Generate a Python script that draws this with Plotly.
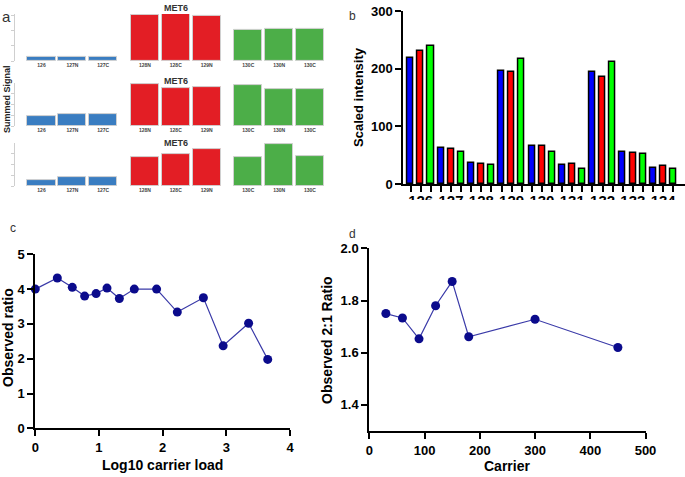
import plotly.graph_objects as go

W, H = 685, 477
def px(x): return x / W
def py(y): return 1 - y / H

FONT = "Arial, Liberation Sans, sans-serif"

# ---------- data ----------
a_labels = ["126", "127N", "127C", "128N", "128C", "129N", "130C", "130N", "130C"]
a_row1 = [0.245, 0.245, 0.285, 3.05, 3.09, 3.0, 2.03, 2.12, 2.14]
a_row2 = [0.91, 1.06, 1.12, 3.85, 3.48, 3.55, 3.75, 3.39, 3.34]
a_row3 = [0.55, 0.82, 0.85, 2.64, 2.88, 3.39, 2.61, 3.85, 2.75]
a_title = "MET6"

b_channels = ["126", "127", "128", "129", "130", "131", "132", "133", "134"]
b_blue = [218, 62, 36, 196, 66, 33, 195, 55.5, 28]
b_red = [231, 61, 35, 195, 66, 35, 185.5, 53, 30.5]
b_green = [240, 56, 33.5, 216, 55.5, 26.5, 211, 52.5, 26]

c_x = [0, 0.346, 0.581, 0.775, 0.955, 1.126, 1.32, 1.555, 1.905, 2.23, 2.64, 2.95, 3.35, 3.65]
c_y = [4.0, 4.32, 4.05, 3.80, 3.87, 4.03, 3.73, 4.0, 4.0, 3.34, 3.75, 2.37, 3.02, 1.98]

d_x = [30, 60, 90, 120, 150, 180, 300, 450]
d_y = [1.75, 1.733, 1.653, 1.78, 1.873, 1.661, 1.728, 1.62]

# ---------- styles ----------
a_colors = ["#3a7dc1"] * 3 + ["#e31e25"] * 3 + ["#4cae48"] * 3
a_pos = [i + (i // 3) * 0.35 for i in range(len(a_labels))]

fig = go.Figure()

def note(text, x, y, size, color="black", angle=0, bold=False):
    fig.add_annotation(text=text, xref="paper", yref="paper", x=px(x), y=py(y),
                       xanchor="center", yanchor="middle", showarrow=False,
                       textangle=angle,
                       font=dict(size=size, color=color, family=FONT,
                                 weight="bold" if bold else "normal"))

# ---------- panel a ----------
rows = [
    (a_row1, 61, 13.9, 15.1, 8),
    (a_row2, 126, 83.1, 11.0, 81),
    (a_row3, 186, 143.1, 11.0, 143),
]
for k, (vals, base, top, unit, ttl) in enumerate(rows, start=1):
    fig.add_trace(go.Bar(
        x=a_pos, y=vals, width=0.91,
        marker=dict(color=a_colors, line=dict(color="#d0d0d0", width=1)),
        xaxis=f"x{k}", yaxis=f"y{k}", showlegend=False,
    ))
    ymax = (base - top) / unit
    fig.update_layout(**{
        f"xaxis{k}": dict(domain=[px(15), px(330)], range=[-0.859, 9.348],
                          anchor=f"y{k}", showgrid=False, zeroline=False, automargin=False,
                          showline=False, ticks="", tickvals=a_pos, ticktext=a_labels,
                          tickfont=dict(size=5, color="#444", family=FONT, weight="bold")),
        f"yaxis{k}": dict(domain=[py(base), py(top)], range=[0, ymax],
                          anchor=f"x{k}", showgrid=False, zeroline=False, automargin=False,
                          showline=True, linecolor="#cfcfcf", linewidth=1,
                          ticks="outside", ticklen=3, tickcolor="#cfcfcf",
                          tickvals=[0, 1, 2, 3], showticklabels=False),
    })
    note(a_title, 176, ttl, 9, color="#333", bold=True)

note("Summed Signal", 7, 99, 9, color="#222", angle=-90, bold=True)

# ---------- panel b ----------
b_pitch = 1 / 3
for off, vals, col in [(-b_pitch, b_blue, "#0000ff"), (0, b_red, "#ff0000"), (b_pitch, b_green, "#00ff00")]:
    fig.add_trace(go.Bar(
        x=[i + off for i in range(len(b_channels))], y=vals, width=0.2,
        marker=dict(color=col, line=dict(color="black", width=1.5)),
        xaxis="x4", yaxis="y4", showlegend=False,
    ))
b_tickvals, b_ticktext = [], []
for i, ch in enumerate(b_channels):
    for j, off in enumerate([-b_pitch, 0, b_pitch]):
        b_tickvals.append(i + off)
        b_ticktext.append(ch if j == 1 else "")
fig.update_layout(
    xaxis4=dict(domain=[px(403.3), 1], range=[-0.574, 8.72], anchor="y4", automargin=False,
                showgrid=False, zeroline=False, showline=True, linecolor="black",
                linewidth=2, ticks="outside", ticklen=6, tickwidth=1.5,
                tickcolor="black", tickvals=b_tickvals, ticktext=b_ticktext,
                ticklabelstandoff=-4,
                tickfont=dict(size=15, color="black", family=FONT, weight="bold")),
    yaxis4=dict(domain=[py(184), py(11)], range=[0, 300], anchor="x4", automargin=False,
                showgrid=False, zeroline=False, showline=True, linecolor="black",
                linewidth=2, ticks="outside", ticklen=6, tickwidth=2,
                tickcolor="black", tickvals=[0, 100, 200, 300],
                tickfont=dict(size=13, color="black", family=FONT, weight="bold")),
)
note("Scaled intensity", 358, 97, 13, angle=-90, bold=True)
# clip like the reference crop
fig.add_shape(type="rect", xref="paper", yref="paper", x0=px(395), x1=1,
              y0=py(218), y1=py(200), fillcolor="white", line=dict(width=0),
              layer="above")

# ---------- panel c ----------
fig.add_trace(go.Scatter(
    x=c_x, y=c_y, mode="lines+markers",
    line=dict(color="#3a3aa8", width=1.2),
    marker=dict(color="#0b0b8c", size=9),
    xaxis="x5", yaxis="y5", showlegend=False, cliponaxis=False,
))
axis_common = dict(showgrid=False, zeroline=False, showline=True, linecolor="black",
                   linewidth=2, ticks="outside", ticklen=6, tickwidth=2, tickcolor="black",
                   automargin=False,
                   tickfont=dict(size=13, color="black", family=FONT, weight="bold"))
fig.update_layout(
    xaxis5=dict(domain=[px(35.3), px(290)], range=[0, 4], anchor="y5",
                tickvals=[0, 1, 2, 3, 4], **axis_common),
    yaxis5=dict(domain=[py(428.3), py(254.3)], range=[0, 5], anchor="x5",
                tickvals=[0, 1, 2, 3, 4, 5], **axis_common),
)
note("Log10 carrier load", 162, 465, 14, bold=True)
note("Observed ratio", 8, 338, 14, angle=-90, bold=True)

# ---------- panel d ----------
fig.add_trace(go.Scatter(
    x=d_x, y=d_y, mode="lines+markers",
    line=dict(color="#3a3aa8", width=1.2),
    marker=dict(color="#0b0b8c", size=9),
    xaxis="x6", yaxis="y6", showlegend=False, cliponaxis=False,
))
fig.update_layout(
    xaxis6=dict(domain=[px(369.3), px(645.5)], range=[0, 500], anchor="y6",
                tickvals=[0, 100, 200, 300, 400, 500], **axis_common),
    yaxis6=dict(domain=[py(431), py(248.3)], range=[1.3, 2.0], anchor="x6",
                tickvals=[1.4, 1.6, 1.8, 2.0], tickformat=".1f", **axis_common),
)
note("Carrier", 507, 466, 14, bold=True)
note("Observed 2:1 Ratio", 327, 340, 14, angle=-90, bold=True)

# ---------- panel letters ----------
note("a", 6, 16, 15, color="#333")
note("b", 353, 16, 12, color="#333")
note("c", 13, 228, 12, color="#333")
note("d", 353, 234, 12, color="#333")

fig.update_layout(
    width=W, height=H, margin=dict(l=0, r=0, t=0, b=0, pad=0, autoexpand=False),
    paper_bgcolor="white", plot_bgcolor="white",
    bargap=0, barmode="overlay",
    font=dict(family=FONT),
)

fig.write_html(
    "out.html",
    config={"displayModeBar": False},
    post_script="document.body.style.margin='0';document.body.style.padding='0';"
                "document.body.style.overflow='hidden';",
)
